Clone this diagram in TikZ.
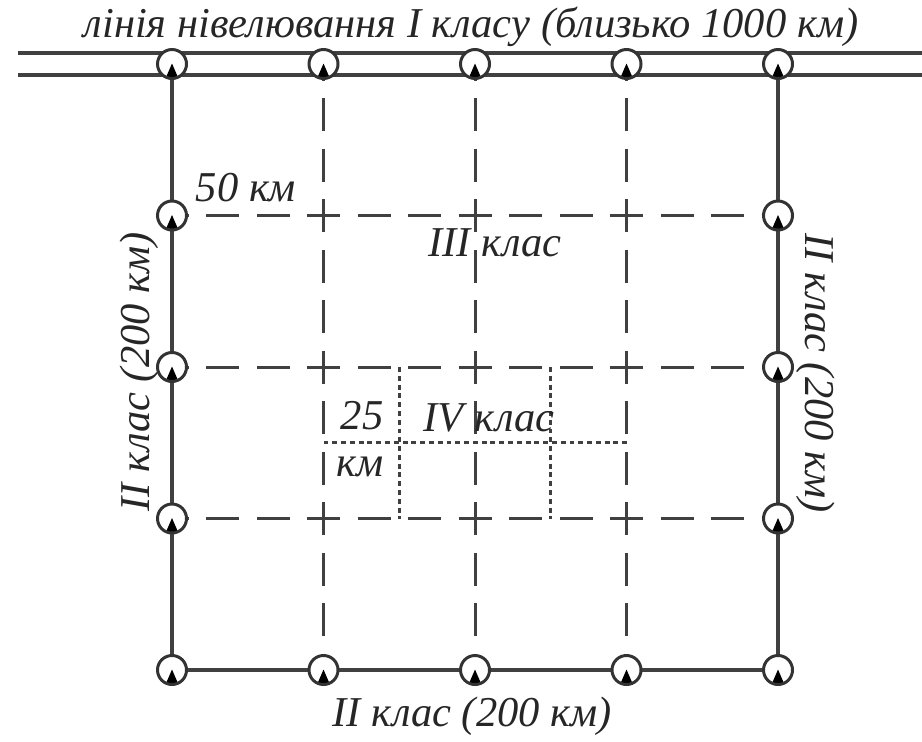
\documentclass[tikz,border=0pt]{standalone}
\usepackage{fontspec}
\setmainfont{Liberation Serif}
\usetikzlibrary{calc}
\tikzset{
  lbl/.style={font=\fontsize{12.1}{14}\selectfont\itshape, inner sep=0pt, text=black!85},
  solidln/.style={draw=black!75, line width=0.9pt},
  dashln/.style={draw=black!75, line width=0.85pt, dash pattern=on 0.33cm off 0.175cm, dash phase=0.165cm},
  dotln/.style={draw=black!75, line width=0.85pt, dash pattern=on 1.4pt off 1.1pt},
  repmark/.style={circle, draw=black!80, fill=white, line width=0.85pt, minimum size=0.29cm, inner sep=0pt,
    path picture={\fill[black] (path picture bounding box.south) ++(-0.065,0) -- ++(0.065,0.15) -- ++(0.065,-0.15) -- cycle;}}
}
\begin{document}
\begin{tikzpicture}
	\useasboundingbox (0,0) rectangle (9.22,7.41);
	% grid points
	\coordinate (p00) at (1.72,0.71);   \coordinate (p10) at (3.235,0.71);  \coordinate (p20) at (4.75,0.71);  \coordinate (p30) at (6.265,0.71);  \coordinate (p40) at (7.78,0.71);
	\coordinate (p01) at (1.72,2.225);  \coordinate (p11) at (3.235,2.225); \coordinate (p21) at (4.75,2.225); \coordinate (p31) at (6.265,2.225); \coordinate (p41) at (7.78,2.225);
	\coordinate (p02) at (1.72,3.74);   \coordinate (p12) at (3.235,3.74);  \coordinate (p22) at (4.75,3.74);  \coordinate (p32) at (6.265,3.74);  \coordinate (p42) at (7.78,3.74);
	\coordinate (p03) at (1.72,5.255);  \coordinate (p13) at (3.235,5.255); \coordinate (p23) at (4.75,5.255); \coordinate (p33) at (6.265,5.255); \coordinate (p43) at (7.78,5.255);
	\coordinate (p04) at (1.72,6.77);   \coordinate (p14) at (3.235,6.77);  \coordinate (p24) at (4.75,6.77);  \coordinate (p34) at (6.265,6.77);  \coordinate (p44) at (7.78,6.77);
	% I class line
	\coordinate (ia) at (0.18,6.88);  \coordinate (ib) at (9.22,6.88);
	\coordinate (ic) at (0.18,6.66);  \coordinate (id) at (9.22,6.66);
	\draw[solidln] (ia) -- (ib);
	\draw[solidln] (ic) -- (id);
	% II class
	\draw[solidln] (p04) -- (p00) -- (p40) -- (p44);
	% III class
	\draw[dashln] (p14) -- (p13) -- (p12) -- (p11) -- (p10);
	\draw[dashln] (p24) -- (p23) -- (p22) -- (p21) -- (p20);
	\draw[dashln] (p34) -- (p33) -- (p32) -- (p31) -- (p30);
	\draw[dashln] (p03) -- (p13) -- (p23) -- (p33) -- (p43);
	\draw[dashln] (p02) -- (p12) -- (p22) -- (p32) -- (p42);
	\draw[dashln] (p01) -- (p11) -- (p21) -- (p31) -- (p41);
	% IV class
	\coordinate (q1t) at ($(p12)!0.5!(p22)$);  \coordinate (q1b) at ($(p11)!0.5!(p21)$);
	\coordinate (q2t) at ($(p22)!0.5!(p32)$);  \coordinate (q2b) at ($(p21)!0.5!(p31)$);
	\coordinate (q3l) at ($(p11)!0.5!(p12)$);  \coordinate (q3r) at ($(p31)!0.5!(p32)$);
	\draw[dotln] (q1t) -- (q1b);
	\draw[dotln] (q2t) -- (q2b);
	\draw[dotln] (q3l) -- (q3r);
	% benchmarks
	\node[repmark] (m00) at (p00) {}; \node[repmark] (m10) at (p10) {}; \node[repmark] (m20) at (p20) {}; \node[repmark] (m30) at (p30) {}; \node[repmark] (m40) at (p40) {};
	\node[repmark] (m01) at (p01) {}; \node[repmark] (m41) at (p41) {};
	\node[repmark] (m02) at (p02) {}; \node[repmark] (m42) at (p42) {};
	\node[repmark] (m03) at (p03) {}; \node[repmark] (m43) at (p43) {};
	\node[repmark] (m04) at (p04) {}; \node[repmark] (m14) at (p14) {}; \node[repmark] (m24) at (p24) {}; \node[repmark] (m34) at (p34) {}; \node[repmark] (m44) at (p44) {};
	% labels
	\node[lbl] (ltop) at (4.71,7.14) {лінія нівелювання І класу (близько 1000 км)};
	\node[lbl] (lbot) at (4.72,0.25) {II клас (200 км)};
	\node[lbl, rotate=90] (lleft) at (1.39,3.69) {II клас (200 км)};
	\node[lbl, rotate=-90] (lright) at (8.16,3.68) {II клас (200 км)};
	\node[lbl] (l50) at (2.46,5.53) {50 км};
	\node[lbl] (lIII) at (4.95,4.98) {III клас};
	\node[lbl] (lIV) at (4.89,3.23) {IV клас};
	\node[lbl] (l25) at (3.62,3.25) {25};
	\node[lbl] (lkm) at (3.60,2.74) {км};
\end{tikzpicture}
\end{document}
